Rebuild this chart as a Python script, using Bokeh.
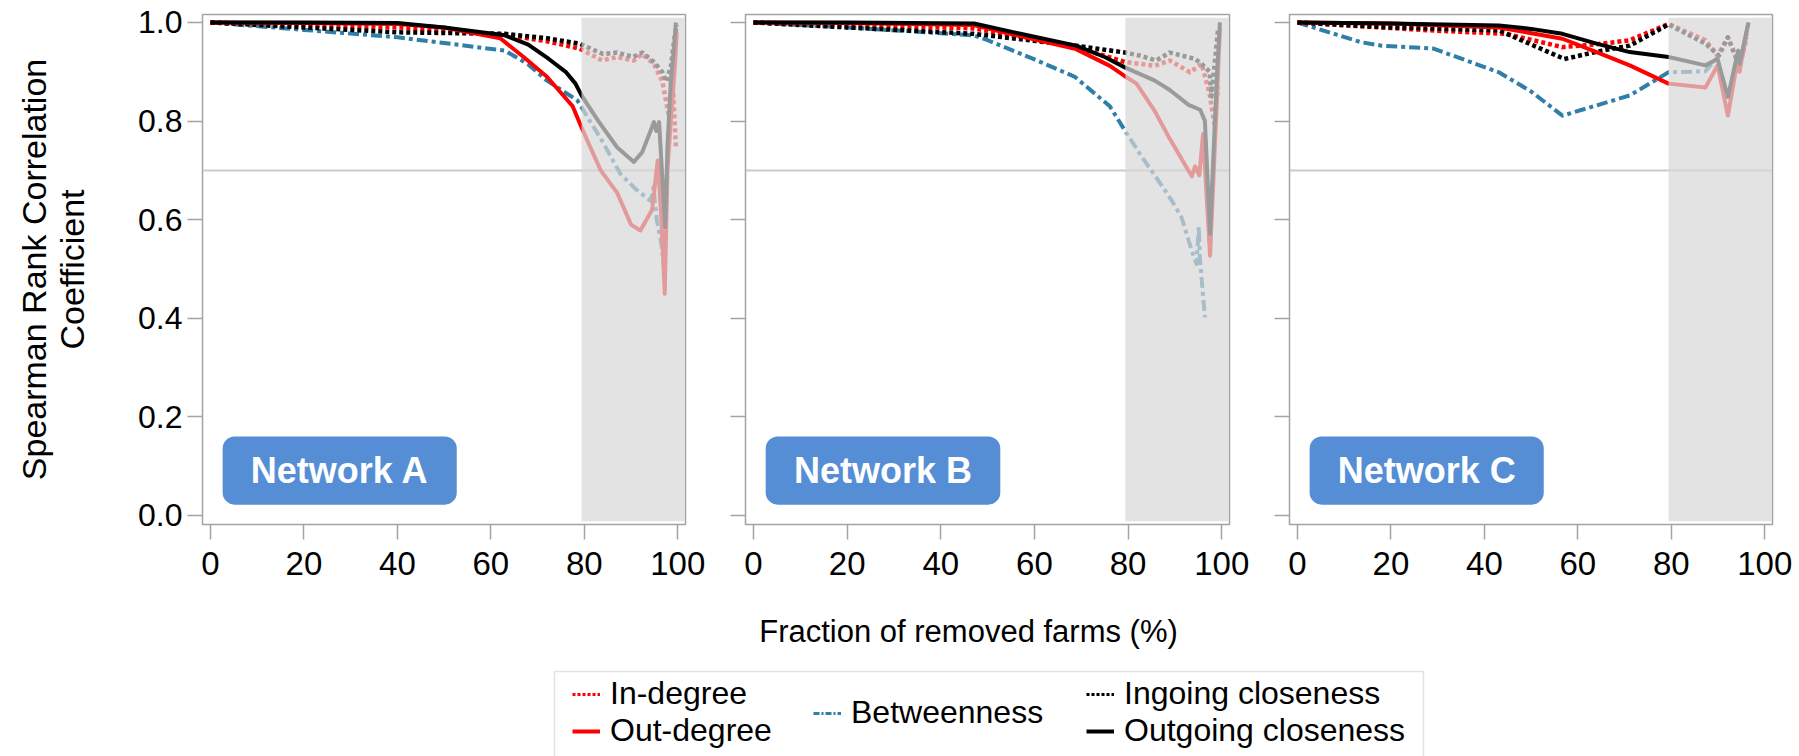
from bokeh.plotting import figure
from bokeh.layouts import column, row
from bokeh.models import (Range1d, FixedTicker, NumeralTickFormatter, Span,
                          BoxAnnotation, Label, Legend, LegendItem)
from bokeh.embed import file_html
from bokeh.resources import INLINE

FONT = "Liberation Sans"

# ---------------- data (fraction of removed farms %, Spearman rho) ----------------
# Network A
a_indeg_x = [0, 20, 40, 63, 72, 79, 83.8, 87, 90.6, 92.4, 94.9, 96.7, 97.5, 98.3, 99.0, 99.6]
a_indeg_y = [1.0, 0.995, 0.99, 0.975, 0.962, 0.947, 0.923, 0.93, 0.923, 0.936, 0.916, 0.88, 0.84, 0.80, 0.86, 0.745]
a_outdeg_x = [0, 20, 40, 50, 62, 67, 72, 77.5, 79.5, 83.5, 87, 90, 92, 94.5, 95.7, 96.5, 97.2, 97.8, 98.5, 99.3, 99.8]
a_outdeg_y = [1.0, 0.999, 0.997, 0.99, 0.968, 0.93, 0.89, 0.83, 0.785, 0.70, 0.655, 0.59, 0.578, 0.62, 0.72, 0.60, 0.45, 0.70, 0.80, 0.90, 0.98]
a_betw_x = [0, 20, 40, 63, 68, 72, 78.5, 83.8, 87.7, 91, 94.2, 94.8, 95.5, 96.5, 97.2]
a_betw_y = [1.0, 0.985, 0.97, 0.943, 0.915, 0.882, 0.842, 0.76, 0.693, 0.662, 0.638, 0.666, 0.60, 0.55, 0.49]
a_inclo_x = [0, 20, 40, 63, 72, 79, 84, 87, 90.5, 92.4, 95, 96.7, 97.5, 98.5, 99.3, 99.8]
a_inclo_y = [1.0, 0.99, 0.98, 0.977, 0.968, 0.957, 0.936, 0.939, 0.930, 0.939, 0.919, 0.899, 0.88, 0.91, 0.97, 0.995]
a_outclo_x = [0, 20, 40, 50, 63, 68, 72.4, 76, 78.1, 79.4, 83, 87, 90.6, 92.4, 94.2, 94.9, 95.4, 96.0, 96.6, 97.3, 97.8, 98.5, 99.2, 99.6]
a_outclo_y = [1.0, 1.0, 0.999, 0.99, 0.974, 0.955, 0.926, 0.90, 0.876, 0.852, 0.80, 0.747, 0.717, 0.737, 0.781, 0.798, 0.78, 0.798, 0.70, 0.585, 0.75, 0.88, 0.95, 1.0]

# Network B
b_indeg_x = [0, 20, 47, 68.9, 79.3, 85.7, 88.9, 93.2, 95.7, 97.4, 98.5, 99.2]
b_indeg_y = [1.0, 0.995, 0.988, 0.95, 0.92, 0.912, 0.923, 0.899, 0.916, 0.855, 0.79, 0.87]
b_outdeg_x = [0, 20, 47, 58, 68.9, 76.1, 79.3, 81.8, 85.7, 88.9, 93.6, 94.3, 95.2, 96.0, 97.5, 98.3, 99.0, 99.6]
b_outdeg_y = [1.0, 0.999, 0.995, 0.97, 0.946, 0.912, 0.891, 0.876, 0.82, 0.764, 0.688, 0.708, 0.69, 0.774, 0.527, 0.70, 0.85, 0.99]
b_betw_x = [0, 20, 47, 50, 60, 68.6, 76.1, 79.3, 82.9, 86.4, 89.3, 91.4, 93.6, 94.6, 95.1, 95.3, 96.4]
b_betw_y = [1.0, 0.99, 0.974, 0.964, 0.925, 0.89, 0.83, 0.781, 0.728, 0.68, 0.639, 0.605, 0.537, 0.51, 0.585, 0.525, 0.402]
b_inclo_x = [0, 20, 47, 68.9, 79.3, 82.4, 86, 88.9, 94.3, 95.7, 97.4, 97.8, 99.2]
b_inclo_y = [1.0, 0.99, 0.977, 0.953, 0.939, 0.933, 0.923, 0.939, 0.926, 0.916, 0.90, 0.85, 0.985]
b_outclo_x = [0, 20, 47.1, 58, 68.9, 75, 79.3, 85.7, 88.9, 92.9, 95.4, 96.4, 97.5, 98.3, 99.0, 99.6]
b_outclo_y = [1.0, 1.0, 0.998, 0.975, 0.953, 0.93, 0.909, 0.882, 0.863, 0.833, 0.823, 0.80, 0.571, 0.75, 0.90, 1.0]

# Network C
c_indeg_x = [0, 28.4, 44.6, 56.7, 65.2, 71.1, 79.4, 87.3, 89.9, 92.1, 94.6, 96.1]
c_indeg_y = [1.0, 0.984, 0.977, 0.95, 0.957, 0.964, 0.997, 0.964, 0.933, 0.97, 0.913, 0.977]
c_outdeg_x = [0, 20, 43.1, 56.7, 64, 71.1, 79.4, 87.3, 89.9, 92.1, 94.3, 94.6, 96.5]
c_outdeg_y = [1.0, 0.998, 0.99, 0.967, 0.94, 0.913, 0.876, 0.868, 0.913, 0.811, 0.93, 0.90, 1.0]
c_betw_x = [0, 13.6, 18.0, 29.1, 43.1, 50, 56.7, 71.1, 79.4, 87.3, 89.9]
c_betw_y = [1.0, 0.96, 0.953, 0.947, 0.899, 0.86, 0.811, 0.852, 0.899, 0.901, 0.93]
c_inclo_x = [0, 20, 43.1, 57.1, 65.2, 71.1, 79.4, 87.3, 90.2, 92.1, 94.6, 96.1]
c_inclo_y = [1.0, 0.99, 0.984, 0.926, 0.943, 0.953, 0.996, 0.957, 0.933, 0.97, 0.91, 0.97]
c_outclo_x = [0, 20, 43.1, 50, 56.7, 64, 71.1, 79.4, 87.3, 89.9, 92.1, 94.3, 94.6, 96.5]
c_outclo_y = [1.0, 0.998, 0.994, 0.987, 0.977, 0.957, 0.94, 0.93, 0.913, 0.926, 0.849, 0.943, 0.916, 1.0]

network_names = ["Network A", "Network B", "Network C"]
series_labels = ["In-degree", "Out-degree", "Betweenness", "Ingoing closeness", "Outgoing closeness"]
x_ticks = [0, 20, 40, 60, 80, 100]
y_ticks = [0.0, 0.2, 0.4, 0.6, 0.8, 1.0]
threshold = 0.7
shade_start = 79.4

# ---------------- styles ----------------
RED = "#FF0000"
BLACK = "#000000"
BLUE = "#2F7FA8"
styles = {
    "In-degree": dict(line_color=RED, line_width=4.5, line_dash="4 3"),
    "Out-degree": dict(line_color=RED, line_width=4),
    "Betweenness": dict(line_color=BLUE, line_width=4, line_dash="11 4 4 4"),
    "Ingoing closeness": dict(line_color=BLACK, line_width=4.5, line_dash="4 3"),
    "Outgoing closeness": dict(line_color=BLACK, line_width=4),
}
draw_order = ["Betweenness", "In-degree", "Ingoing closeness", "Out-degree", "Outgoing closeness"]

panels = [
    {"In-degree": (a_indeg_x, a_indeg_y), "Out-degree": (a_outdeg_x, a_outdeg_y),
     "Betweenness": (a_betw_x, a_betw_y), "Ingoing closeness": (a_inclo_x, a_inclo_y),
     "Outgoing closeness": (a_outclo_x, a_outclo_y)},
    {"In-degree": (b_indeg_x, b_indeg_y), "Out-degree": (b_outdeg_x, b_outdeg_y),
     "Betweenness": (b_betw_x, b_betw_y), "Ingoing closeness": (b_inclo_x, b_inclo_y),
     "Outgoing closeness": (b_outclo_x, b_outclo_y)},
    {"In-degree": (c_indeg_x, c_indeg_y), "Out-degree": (c_outdeg_x, c_outdeg_y),
     "Betweenness": (c_betw_x, c_betw_y), "Ingoing closeness": (c_inclo_x, c_inclo_y),
     "Outgoing closeness": (c_outclo_x, c_outclo_y)},
]

borders = [(202, 30), (30, 30), (30, 20)]
frame_widths = [483, 484, 483]
AX_GRAY = "#A3A3A3"

figs = []
for i, (data, name) in enumerate(zip(panels, network_names)):
    bl, br = borders[i]
    p = figure(frame_width=frame_widths[i], frame_height=510,
               x_range=Range1d(-1.71, 101.65), y_range=Range1d(-0.0183, 1.0162),
               min_border_left=bl, min_border_right=br, min_border_top=14, min_border_bottom=70,
               output_backend="svg", toolbar_location=None)
    p.grid.visible = False
    p.outline_line_color = AX_GRAY
    p.outline_line_width = 1.5
    p.background_fill_color = "white"
    p.border_fill_color = "white"

    p.add_layout(Span(location=threshold, dimension="width", line_color="#CBCBCB",
                      line_width=2, level="underlay"))

    for key in draw_order:
        xs, ys = data[key]
        p.line(xs, ys, line_cap="butt", line_join="round", **styles[key])

    # shaded region overlay (x >= 80 %)
    p.add_layout(BoxAnnotation(left=shade_start, right=101.45, bottom=-0.0116, top=1.0095,
                               fill_color=(216, 216, 216), fill_alpha=0.714, line_color=None))

    # network label
    p.add_layout(BoxAnnotation(left=2.6, right=52.7, bottom=0.022, top=0.160,
                               fill_color="#558ED5", fill_alpha=1.0, line_color=None,
                               border_radius=12))
    p.add_layout(Label(x=27.65, y=0.091, text=name, text_align="center", text_baseline="middle",
                       text_color="white", text_font=FONT, text_font_style="bold",
                       text_font_size="36px"))

    xa = p.xaxis[0]
    xa.ticker = FixedTicker(ticks=x_ticks)
    xa.minor_tick_line_color = None
    xa.major_tick_in = 0
    xa.major_tick_out = 15
    xa.major_tick_line_color = AX_GRAY
    xa.major_tick_line_width = 1.5
    xa.axis_line_color = None
    xa.major_label_text_font = FONT
    xa.major_label_text_font_size = "33px"
    xa.major_label_text_color = "#000000"
    xa.major_label_standoff = 12

    ya = p.yaxis[0]
    ya.ticker = FixedTicker(ticks=y_ticks)
    ya.formatter = NumeralTickFormatter(format="0.0")
    ya.minor_tick_line_color = None
    ya.major_tick_in = 0
    ya.major_tick_out = 15
    ya.major_tick_line_color = AX_GRAY
    ya.major_tick_line_width = 1.5
    ya.axis_line_color = None
    if i == 0:
        ya.major_label_text_font = FONT
        ya.major_label_text_font_size = "32px"
        ya.major_label_text_color = "#000000"
        ya.major_label_standoff = 5
        ya.axis_label = "Spearman Rank Correlation\nCoefficient"
        ya.axis_label_text_font = FONT
        ya.axis_label_text_font_size = "34px"
        ya.axis_label_text_font_style = "normal"
        ya.axis_label_text_color = "#000000"
        ya.axis_label_text_line_height = 1.0
        ya.axis_label_standoff = 44
    else:
        ya.major_label_text_font_size = "1px"
        ya.major_label_text_color = None
        ya.major_label_standoff = 0
    figs.append(p)

# ---------------- bottom: x title + legend ----------------
BW, BH = 1792, 162
bot = figure(width=BW, height=BH, x_range=Range1d(0, BW), y_range=Range1d(0, BH),
             min_border=0, output_backend="svg", toolbar_location=None)
bot.axis.visible = False
bot.grid.visible = False
bot.outline_line_color = None

bot.add_layout(Label(x=968, y=125, text="Fraction of removed farms (%)", text_align="center",
                     text_baseline="middle", text_font=FONT, text_font_size="31px",
                     text_color="#000000"))
bot.add_layout(BoxAnnotation(left=554, right=1423, top=85, bottom=-40, fill_color=None,
                             line_color="#A0A0A0", line_width=1.5))

leg_styles = {
    "In-degree": dict(line_color=RED, line_width=3, line_dash="3 2"),
    "Out-degree": dict(line_color=RED, line_width=4),
    "Betweenness": dict(line_color=BLUE, line_width=3, line_dash="6 2 2 2"),
    "Ingoing closeness": dict(line_color=BLACK, line_width=3, line_dash="3 2"),
    "Outgoing closeness": dict(line_color=BLACK, line_width=4),
}
nan = float("nan")
rend = {k: bot.line([nan], [nan], **v) for k, v in leg_styles.items()}

def mk_legend(keys, loc):
    lg = Legend(items=[LegendItem(label=k, renderers=[rend[k]]) for k in keys], location=loc,
                orientation="vertical", padding=0, margin=0, spacing=0,
                glyph_width=28, glyph_height=36, label_height=36, label_standoff=10,
                label_text_font=FONT, label_text_font_size="32px", label_text_color="#000000",
                border_line_color=None, background_fill_alpha=0)
    bot.add_layout(lg, "center")

mk_legend(["In-degree", "Out-degree"], (572, 7))
mk_legend(["Betweenness"], (813, 25))
mk_legend(["Ingoing closeness", "Outgoing closeness"], (1086, 7))

layout = column(row(*figs, spacing=0), bot, spacing=0)
open("out.html", "w").write(file_html(layout, INLINE))
